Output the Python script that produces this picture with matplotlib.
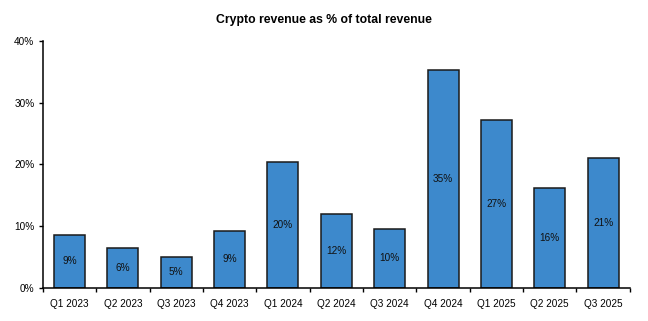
import numpy as np
import matplotlib
matplotlib.use('Agg')
import matplotlib.pyplot as plt
import matplotlib.ticker as tkr

plt.rcParams['font.family'] = ['Liberation Sans', 'DejaVu Sans']

quarters = ['Q1 2023', 'Q2 2023', 'Q3 2023', 'Q4 2023', 'Q1 2024', 'Q2 2024',
            'Q3 2024', 'Q4 2024', 'Q1 2025', 'Q2 2025', 'Q3 2025']
crypto_pct = [8.6, 6.4, 4.95, 9.2, 20.4, 11.9, 9.5, 35.3, 27.2, 16.2, 21.0]

fig = plt.figure(figsize=(6.48, 3.21), dpi=100)
ax = fig.add_axes([0.066, 0.104, 0.906, 0.768])

x = np.arange(len(quarters))
bars = ax.bar(x, crypto_pct, width=0.58, color='#3D89CC', edgecolor='#1a1a1a', linewidth=1.1)

for b, v in zip(bars, crypto_pct):
    ax.text(b.get_x() + b.get_width() / 2, v / 2, '%d%%' % round(v),
            ha='center', va='center', fontsize=7.2, color='#111111')

ax.set_xlim(-0.5, len(quarters) - 0.5)
ax.set_ylim(0, 40)
ax.yaxis.set_major_locator(tkr.MultipleLocator(10))
ax.yaxis.set_major_formatter(tkr.FuncFormatter(lambda v, p: '%d%%' % v))

ax.set_xticks(x)
ax.set_xticklabels(quarters)
ax.set_xticks(np.arange(-0.5, len(quarters), 1), minor=True)
ax.tick_params(axis='x', which='major', length=0, pad=8, labelsize=7.2)
ax.tick_params(axis='x', which='minor', length=3, width=1, direction='out')
ax.tick_params(axis='y', length=3, width=1, labelsize=7.2, pad=3)

ax.spines['top'].set_visible(False)
ax.spines['right'].set_visible(False)
ax.spines['left'].set_linewidth(1.1)
ax.spines['bottom'].set_linewidth(1.1)

fig.text(0.5, 0.937, 'Crypto revenue as % of total revenue', ha='center', va='center',
         fontsize=8.8, fontweight='bold')

fig.savefig('out.png', dpi=100, facecolor='white')
